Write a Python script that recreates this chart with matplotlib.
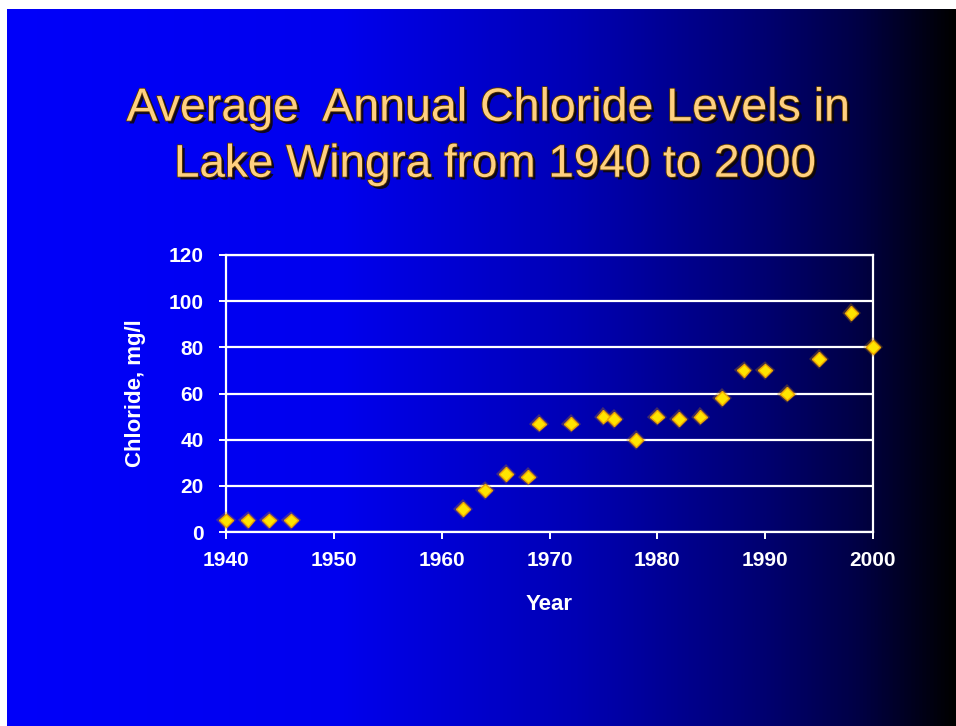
import numpy as np
import matplotlib
matplotlib.use('Agg')
import matplotlib.pyplot as plt
import matplotlib.patheffects as pe
from matplotlib.colors import LinearSegmentedColormap

# data
years = [1940, 1942, 1944, 1946, 1962, 1964, 1966, 1968, 1969, 1972, 1975, 1976,
         1978, 1980, 1982, 1984, 1986, 1988, 1990, 1992, 1995, 1998, 2000]
chloride = [5, 5, 5, 5, 10, 18, 25, 24, 47, 47, 50, 49,
            40, 50, 49, 50, 58, 70, 70, 60, 75, 95, 80]
x_ticks = [1940, 1950, 1960, 1970, 1980, 1990, 2000]
y_ticks = [0, 20, 40, 60, 80, 100, 120]

plt.rcParams['font.family'] = ['Liberation Sans', 'DejaVu Sans']

fig = plt.figure(figsize=(9.56, 7.26), dpi=100)
fig.patch.set_facecolor('white')

# slide background: blue fading to black on the right
bg = fig.add_axes([7 / 956, 0, 949 / 956, 717 / 726])
cmap = LinearSegmentedColormap.from_list('slide', [
    (0.0, (0, 0, 250 / 255)),
    (0.35, (0, 0, 238 / 255)),
    (0.6, (0, 0, 180 / 255)),
    (0.8, (0, 0, 112 / 255)),
    (0.9, (0, 0, 68 / 255)),
    (1.0, (0, 0, 0)),
])
bg.imshow(np.linspace(0, 1, 512).reshape(1, -1), aspect='auto', cmap=cmap,
          extent=[0, 1, 0, 1])
bg.set_axis_off()

title_fx = [pe.SimplePatchShadow(offset=(2, -2), shadow_rgbFace='#100800', alpha=0.85),
            pe.Stroke(linewidth=1.2, foreground='#5a3800'),
            pe.Normal()]
fig.text(488 / 956, 1 - 120.7 / 726, 'Average  Annual Chloride Levels in',
         ha='center', va='baseline', fontsize=33.5, color='#ffd080', path_effects=title_fx)
fig.text(495 / 956, 1 - 176.7 / 726, 'Lake Wingra from 1940 to 2000',
         ha='center', va='baseline', fontsize=33, color='#ffd080', path_effects=title_fx)

ax = fig.add_axes([226 / 956, 1 - 532 / 726, 647 / 956, 277 / 726])
ax.patch.set_alpha(0)
ax.set_xlim(1940, 2000)
ax.set_ylim(0, 120)
ax.set_xticks(x_ticks)
ax.set_yticks(y_ticks)
ax.grid(axis='y', color='white', linewidth=1.6)
ax.set_axisbelow(True)
for s in ax.spines.values():
    s.set_color('white')
    s.set_linewidth(1.6)
ax.tick_params(colors='white', width=1.4, length=5, labelsize=15)
ax.tick_params(axis='y', pad=11)
ax.tick_params(axis='x', pad=9)
for lbl in ax.get_xticklabels() + ax.get_yticklabels():
    lbl.set_fontweight('bold')

ax.plot(years, chloride, linestyle='none', marker='D', markersize=7,
        markerfacecolor='#ffe400', markeredgecolor='#f0a800', markeredgewidth=1.0,
        clip_on=False, zorder=5,
        path_effects=[pe.Stroke(linewidth=3, foreground='#c08000', alpha=0.35), pe.Normal()])

ax.set_xlabel('Year', color='white', fontsize=16, fontweight='bold')
ax.xaxis.set_label_coords(0.5, -0.2635)
ax.xaxis.label.set_va('center')
ax.set_ylabel('Chloride, mg/l', color='white', fontsize=16, fontweight='bold')
ax.yaxis.set_label_coords(-0.1406, 0.5)
ax.yaxis.label.set_va('center')

fig.savefig('out.png', dpi=100)
